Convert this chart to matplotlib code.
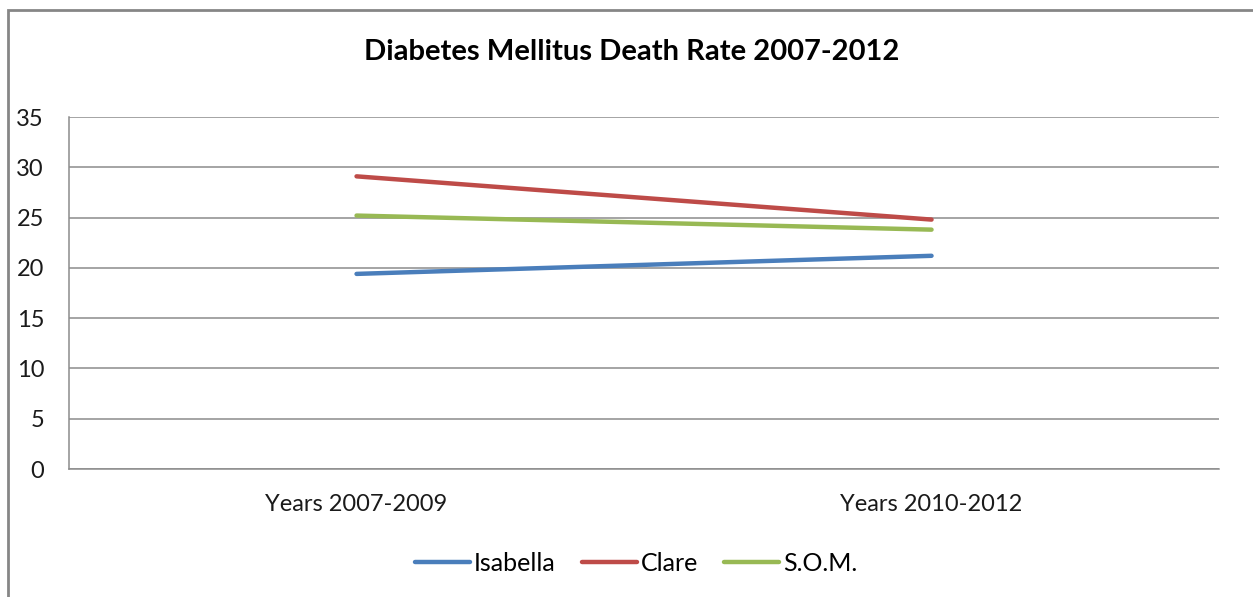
import matplotlib
matplotlib.use("Agg")
import matplotlib.pyplot as plt
from matplotlib.patches import Rectangle

# Diabetes mellitus death rate per 100,000, two three-year periods
periods = ["Years 2007-2009", "Years 2010-2012"]
isabella = [19.4, 21.2]
clare = [29.1, 24.8]
som = [25.2, 23.8]

series = [("Isabella", isabella, "#4A7EBB"),
          ("Clare", clare, "#BE4B48"),
          ("S.O.M.", som, "#98B954")]

plt.rcParams["font.family"] = ["Lato", "DejaVu Sans"]

fig = plt.figure(figsize=(12.53, 5.97), dpi=100)
ax = fig.add_axes([0.0551, 0.2144, 0.9178, 0.5896])

for name, vals, col in series:
    ax.plot(range(len(periods)), vals, color=col, lw=3.2,
            solid_capstyle="round", label=name)

ax.set_xlim(-0.5, len(periods) - 0.5)
ax.set_ylim(0, 35)
ax.set_yticks(range(0, 36, 5))
ax.set_xticks(range(len(periods)))
ax.set_xticklabels(periods)
ax.grid(axis="y", color="#8c8c8c", lw=1.1)
ax.set_axisbelow(True)
ax.tick_params(length=0, labelsize=17, colors="#1a1a1a")
ax.tick_params(axis="y", pad=18)
ax.tick_params(axis="x", pad=18)
for side in ["top", "right"]:
    ax.spines[side].set_visible(False)
for side in ["left", "bottom"]:
    ax.spines[side].set_color("#8c8c8c")
    ax.spines[side].set_linewidth(1.1)

fig.text(0.504, 0.913, "Diabetes Mellitus Death Rate 2007-2012",
         ha="center", va="center", fontsize=21, fontweight="bold")

fig.legend(loc="center", bbox_to_anchor=(0.5076, 0.056), ncol=3,
           frameon=False, fontsize=18, handlelength=2.2, handletextpad=0.16,
           columnspacing=1.05)

# chart frame, open at the right and bottom edges
fig.patches.append(Rectangle((8 / 1253, -0.05), 1.1, 1.05 - 10 / 597,
                             transform=fig.transFigure, fill=False,
                             edgecolor="#868686", lw=2))

fig.savefig("out.png", dpi=100)
